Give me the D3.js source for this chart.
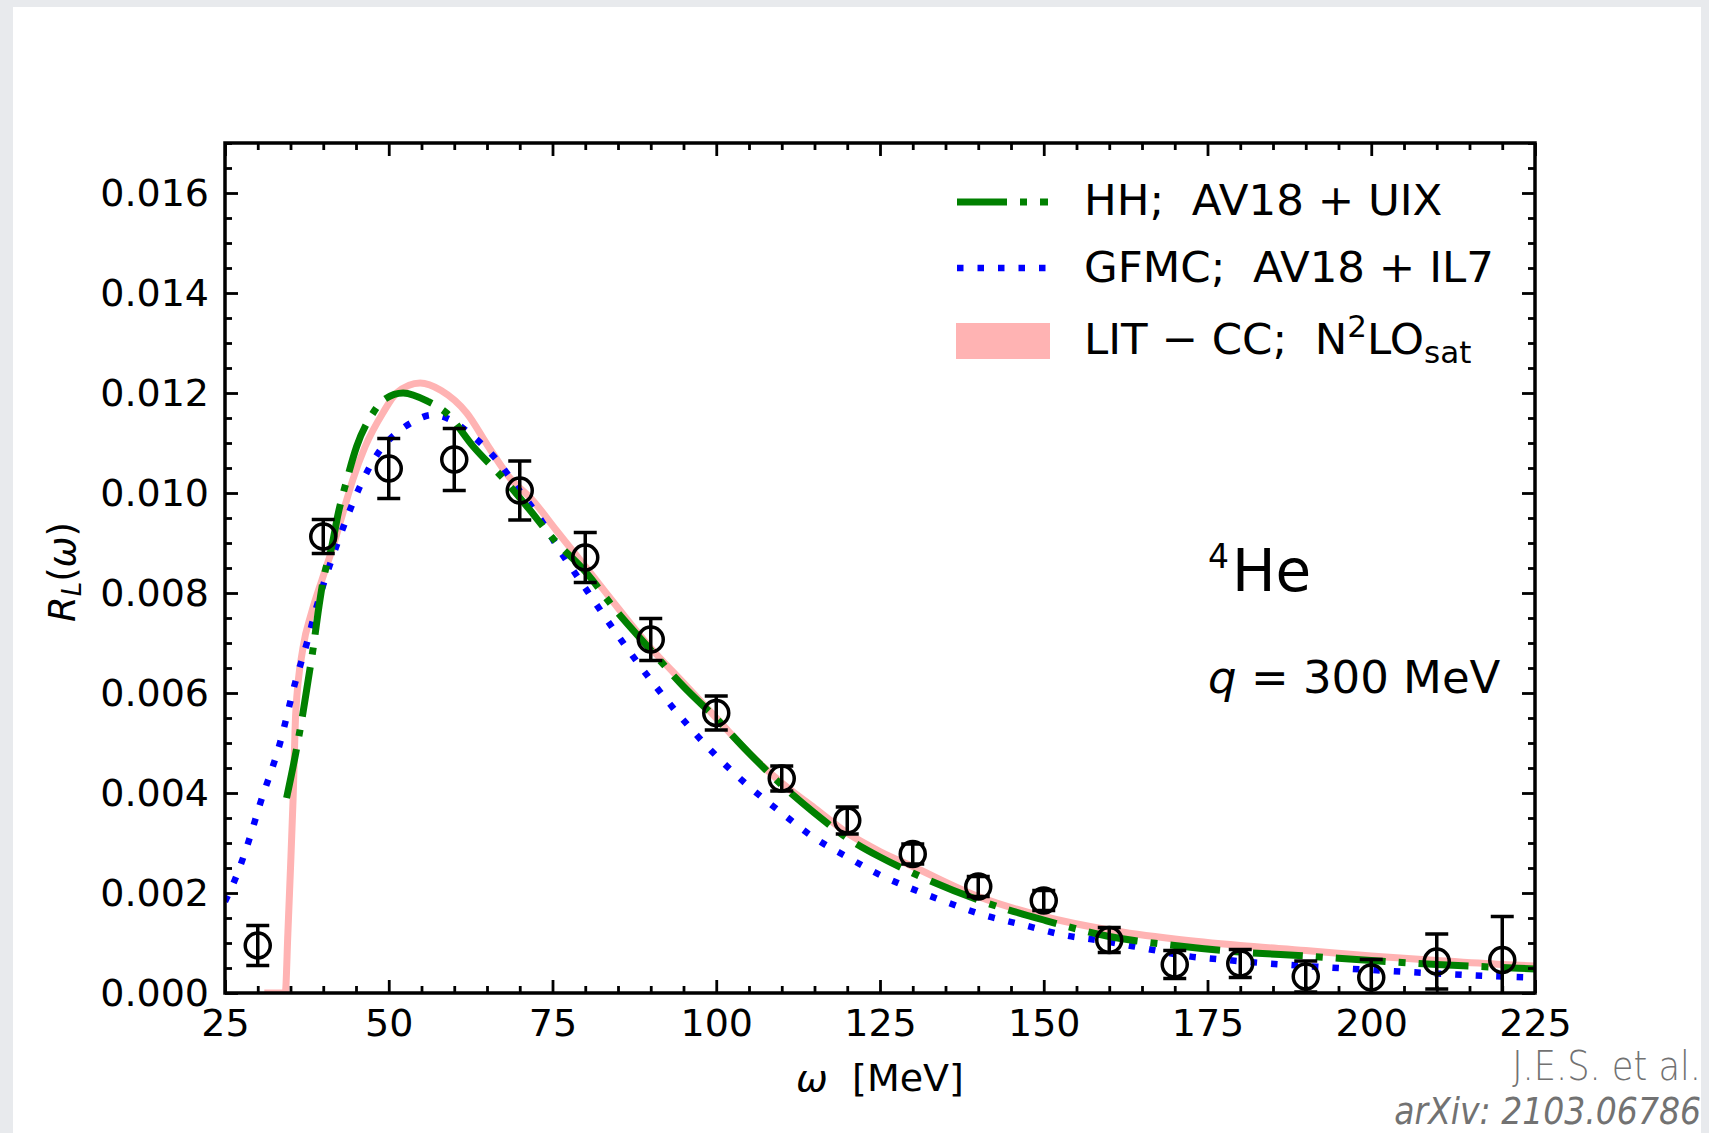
<!DOCTYPE html>
<html>
<head>
<meta charset="utf-8">
<script src="https://cdn.jsdelivr.net/npm/d3@7"></script>
<style>
  html, body { margin: 0; padding: 0; background: #e8eaed; }
  svg { display: block; }
  text { font-family: "DejaVu Sans", sans-serif; }
</style>
</head>
<body>
<svg id="chart" width="1709" height="1133"></svg>
<script>
// ---------------- DATA ----------------
const xTicks = [25, 50, 75, 100, 125, 150, 175, 200, 225];
const yTicks = [0.000, 0.002, 0.004, 0.006, 0.008, 0.010, 0.012, 0.014, 0.016];
const yTickLabels = ["0.000", "0.002", "0.004", "0.006", "0.008", "0.010", "0.012", "0.014", "0.016"];

// Experimental data
const expOmega = [30, 40, 50, 60, 70, 80, 90, 100, 110, 120, 130, 140, 150, 160, 170, 180, 190, 200, 210, 220];
const expR     = [0.00095, 0.00913, 0.01049, 0.01067, 0.01005, 0.00871, 0.00707, 0.00560, 0.00429, 0.00345,
                  0.00278, 0.00213, 0.00185, 0.00106, 0.00057, 0.00059, 0.00033, 0.00031, 0.00063, 0.00066];
const expErr   = [0.00040, 0.00034, 0.00060, 0.00062, 0.00059, 0.00050, 0.00042, 0.00034, 0.00025, 0.00027,
                  0.00020, 0.00020, 0.00020, 0.00025, 0.00028, 0.00028, 0.00031, 0.00036, 0.00055, 0.00087];

// HH; AV18+UIX (green dash-dot)
const hhOmega = [34.4, 35.7, 36.9, 37.7, 38.5, 39.2, 40, 41.3, 42.3, 43.6, 45.1, 47.6, 49.2, 52.2, 56, 58.8,
                 62.9, 67.7, 71.3, 75, 80, 85, 90, 95, 100, 105, 110, 115, 120, 125, 130, 140, 150, 160,
                 170, 180, 190, 200, 210, 220, 225];
const hhR     = [0.0039, 0.00473, 0.0056, 0.00626, 0.00693, 0.0076, 0.00826, 0.00893, 0.0096, 0.01026,
                 0.01093, 0.0116, 0.01186, 0.0120, 0.01183, 0.0116, 0.01093, 0.01026, 0.0097, 0.0091,
                 0.00843, 0.0076, 0.00686, 0.00613, 0.00549, 0.0048, 0.00416, 0.0036, 0.0031, 0.00272,
                 0.00240, 0.00186, 0.00146, 0.00113, 0.00095, 0.00082, 0.00074, 0.00065, 0.00057, 0.00051, 0.00048];

// GFMC; AV18+IL7 (blue dotted)
const gfmcOmega = [25, 26.5, 28.6, 30.3, 33.4, 35.7, 37.5, 39, 41, 43.1, 45.6, 48.7, 51.2, 53.8, 56.6, 58.8,
                   62.9, 66.5, 69.5, 73.3, 76.2, 78.8, 84.4, 90, 96.1, 100.4, 104.9, 110, 115, 120, 125,
                   129, 134.9, 140.8, 146.9, 153, 159.1, 165.5, 171.8, 177.9, 184.3, 190, 200, 210, 220, 225];
const gfmcR     = [0.00183, 0.00226, 0.00303, 0.00376, 0.0050, 0.0062, 0.0070, 0.00773, 0.00856, 0.00933,
                   0.01013, 0.01086, 0.0112, 0.01143, 0.01156, 0.0115, 0.01113, 0.01066, 0.01013, 0.00945,
                   0.00883, 0.00833, 0.00726, 0.00626, 0.00529, 0.00469, 0.00414, 0.0036, 0.0031, 0.00272,
                   0.00236, 0.00213, 0.00183, 0.00156, 0.00136, 0.00116, 0.00104, 0.00089, 0.00074, 0.00066,
                   0.00059, 0.00054, 0.00046, 0.00039, 0.00033, 0.00031];

// LIT-CC; N2LOsat (pink band)
const litOmega = [31, 34.2, 34.6, 35.0, 35.4, 35.8, 36.9, 38.2, 39.8, 41.5, 43, 44.5, 46.4, 49.1, 51.2, 54.8,
                  58, 61.9, 65.2, 68.5, 72, 75.6, 80, 85, 90, 95, 100, 105, 110, 115, 120, 125, 130, 140,
                  150, 160, 170, 180, 190, 200, 210, 220, 225];
const litR     = [0, 0, 0.0012, 0.0025, 0.0039, 0.0056, 0.0069, 0.0076, 0.00826, 0.00893, 0.0096, 0.01026,
                  0.01093, 0.0116, 0.0120, 0.0122, 0.01205, 0.0116, 0.01093, 0.0103, 0.00985, 0.00925,
                  0.00853, 0.0077, 0.0069, 0.0062, 0.0055, 0.0048, 0.0042, 0.0037, 0.0032, 0.00283, 0.00253,
                  0.00193, 0.00153, 0.00126, 0.00108, 0.00095, 0.00085, 0.00074, 0.00065, 0.00057, 0.00054];

const legendLabels = ["HH;  AV18 + UIX", "GFMC;  AV18 + IL7", "LIT − CC;  N²LOsat"];

// ---------------- LAYOUT ----------------
const svg = d3.select("#chart");
const L = 225, R = 1535, T = 143, B = 993;
const x = d3.scaleLinear().domain([25, 225]).range([L, R]);
const y = d3.scaleLinear().domain([0, 0.017]).range([B, T]);

// background card
svg.append("rect").attr("x", 13).attr("y", 7).attr("width", 1688).attr("height", 1126).attr("fill", "#ffffff");

svg.append("defs").append("clipPath").attr("id", "plotclip")
  .append("rect").attr("x", L).attr("y", T).attr("width", R - L).attr("height", B - T);

const plot = svg.append("g").attr("clip-path", "url(#plotclip)");

const line = d3.line().x(d => x(d[0])).y(d => y(d[1])).curve(d3.curveMonotoneX);

// pink band
plot.append("path")
  .datum(litOmega.map((w, i) => [w, litR[i]]))
  .attr("d", line).attr("fill", "none")
  .attr("stroke", "#ffb3b3").attr("stroke-width", 7).attr("stroke-linejoin", "round");

// blue dotted
plot.append("path")
  .datum(gfmcOmega.map((w, i) => [w, gfmcR[i]]))
  .attr("d", line).attr("fill", "none")
  .attr("stroke", "#0000ff").attr("stroke-width", 6.5).attr("stroke-dasharray", "6.5,14");

// green dash-dot
plot.append("path")
  .datum(hhOmega.map((w, i) => [w, hhR[i]]))
  .attr("d", line).attr("fill", "none")
  .attr("stroke", "#008000").attr("stroke-width", 7).attr("stroke-dasharray", "50,13,7,13");

// data points with error bars
const pts = plot.append("g").attr("stroke", "#000").attr("fill", "none").attr("stroke-width", 3.5);
expOmega.forEach((w, i) => {
  const cx = x(w), cy = y(expR[i]);
  const y1 = y(expR[i] + expErr[i]), y0 = y(expR[i] - expErr[i]);
  pts.append("line").attr("x1", cx).attr("x2", cx).attr("y1", y1).attr("y2", y0);
  pts.append("line").attr("x1", cx - 11.5).attr("x2", cx + 11.5).attr("y1", y1).attr("y2", y1);
  pts.append("line").attr("x1", cx - 11.5).attr("x2", cx + 11.5).attr("y1", y0).attr("y2", y0);
  pts.append("circle").attr("cx", cx).attr("cy", cy).attr("r", 12.5);
});

// ---------------- AXES ----------------
const xMinor = d3.range(25, 226, 5).filter(v => xTicks.indexOf(v) < 0);
const yMinorVals = d3.range(0, 35).filter(k => k % 4 !== 0).map(k => k * 0.0005).filter(v => v <= 0.017);

function styleAxis(g) {
  g.select(".domain").remove();
  g.selectAll(".tick line").attr("stroke", "#000").attr("stroke-width", 2.8);
  g.selectAll(".tick text").attr("fill", "#000").attr("font-size", "38px").attr("font-family", "DejaVu Sans");
}

// bottom
svg.append("g").attr("transform", `translate(0,${B})`)
  .call(d3.axisBottom(x).tickValues(xTicks).tickFormat(d3.format("d")).tickSizeInner(-13).tickSizeOuter(0).tickPadding(16))
  .call(styleAxis);
svg.append("g").attr("transform", `translate(0,${B})`)
  .call(d3.axisBottom(x).tickValues(xMinor).tickFormat("").tickSizeInner(-7).tickSizeOuter(0))
  .call(styleAxis);
// top
svg.append("g").attr("transform", `translate(0,${T})`)
  .call(d3.axisTop(x).tickValues(xTicks).tickFormat("").tickSizeInner(-13).tickSizeOuter(0))
  .call(styleAxis);
svg.append("g").attr("transform", `translate(0,${T})`)
  .call(d3.axisTop(x).tickValues(xMinor).tickFormat("").tickSizeInner(-7).tickSizeOuter(0))
  .call(styleAxis);
// left
svg.append("g").attr("transform", `translate(${L},0)`)
  .call(d3.axisLeft(y).tickValues(yTicks).tickFormat((d, i) => yTickLabels[i]).tickSizeInner(-13).tickSizeOuter(0).tickPadding(16))
  .call(styleAxis);
svg.append("g").attr("transform", `translate(${L},0)`)
  .call(d3.axisLeft(y).tickValues(yMinorVals).tickFormat("").tickSizeInner(-7).tickSizeOuter(0))
  .call(styleAxis);
// right
svg.append("g").attr("transform", `translate(${R},0)`)
  .call(d3.axisRight(y).tickValues(yTicks).tickFormat("").tickSizeInner(-13).tickSizeOuter(0))
  .call(styleAxis);
svg.append("g").attr("transform", `translate(${R},0)`)
  .call(d3.axisRight(y).tickValues(yMinorVals).tickFormat("").tickSizeInner(-7).tickSizeOuter(0))
  .call(styleAxis);

// frame
svg.append("rect").attr("x", L).attr("y", T).attr("width", R - L).attr("height", B - T)
  .attr("fill", "none").attr("stroke", "#000").attr("stroke-width", 3.5);

// axis labels
const xl = svg.append("text").attr("x", (L + R) / 2).attr("y", 1091).attr("text-anchor", "middle")
  .attr("font-size", "38px").attr("fill", "#000");
xl.append("tspan").attr("font-style", "italic").text("ω");
xl.append("tspan").attr("xml:space", "preserve").text("  [MeV]");

const yl = svg.append("text").attr("transform", "translate(75,572) rotate(-90)").attr("text-anchor", "middle")
  .attr("font-size", "37px").attr("fill", "#000");
yl.append("tspan").attr("font-style", "italic").text("R");
yl.append("tspan").attr("font-style", "italic").attr("font-size", "26px").attr("dy", 6).text("L");
yl.append("tspan").attr("dy", -6).text("(");
yl.append("tspan").attr("font-style", "italic").text("ω");
yl.append("tspan").text(")");

// ---------------- LEGEND ----------------
const lg = svg.append("g");
lg.append("line").attr("x1", 957).attr("x2", 1048).attr("y1", 202).attr("y2", 202)
  .attr("stroke", "#008000").attr("stroke-width", 7).attr("stroke-dasharray", "50,13,7,13");
lg.append("line").attr("x1", 957).attr("x2", 1048).attr("y1", 268).attr("y2", 268)
  .attr("stroke", "#0000ff").attr("stroke-width", 6.5).attr("stroke-dasharray", "6.5,14");
lg.append("rect").attr("x", 956).attr("y", 323).attr("width", 94).attr("height", 36).attr("fill", "#ffb3b3");

const legFS = 43.5;
lg.append("text").attr("x", 1084).attr("y", 215).attr("font-size", legFS + "px").attr("xml:space", "preserve")
  .text(legendLabels[0]);
lg.append("text").attr("x", 1084).attr("y", 282).attr("font-size", legFS + "px").attr("xml:space", "preserve")
  .text(legendLabels[1]);
const t3 = lg.append("text").attr("x", 1084).attr("y", 354).attr("font-size", legFS + "px").attr("xml:space", "preserve");
t3.append("tspan").text("LIT − CC;  N");
t3.append("tspan").attr("font-size", "31px").attr("dy", -17).text("2");
t3.append("tspan").attr("dy", 17).text("LO");
t3.append("tspan").attr("font-size", "31px").attr("dy", 9).text("sat");

// annotations
const he = svg.append("text").attr("x", 1208).attr("y", 591).attr("font-size", "58px");
he.append("tspan").attr("font-size", "33px").attr("dy", -23).text("4");
he.append("tspan").attr("dy", 23).attr("dx", 3).text("He");

const qt = svg.append("text").attr("x", 1208).attr("y", 693).attr("font-size", "45px").attr("xml:space", "preserve");
qt.append("tspan").attr("font-style", "italic").text("q");
qt.append("tspan").text(" = 300 MeV");

// watermark
svg.append("text").attr("transform", "translate(1701,1080) scale(0.88,1)").attr("text-anchor", "end")
  .attr("font-family", "Lato, sans-serif").attr("font-weight", 300).attr("font-size", "40px")
  .attr("fill", "#727272").text("J.E.S. et al.");
svg.append("text").attr("transform", "translate(1701,1124) scale(0.87,1)").attr("text-anchor", "end")
  .attr("font-family", "Lato, sans-serif").attr("font-weight", 300).attr("font-style", "italic")
  .attr("font-size", "38px").attr("fill", "#727272").text("arXiv: 2103.06786");
</script>
</body>
</html>
